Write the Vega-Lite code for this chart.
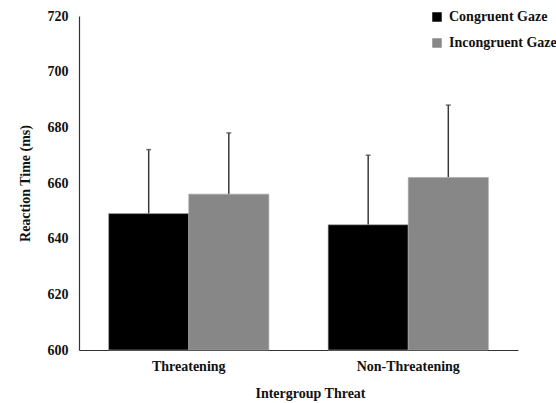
{
  "$schema": "https://vega.github.io/schema/vega-lite/v6.json",
  "width": 439,
  "height": 334,
  "autosize": {"type": "none"},
  "padding": {"left": 79, "top": 16, "right": 38, "bottom": 53},
  "background": "white",
  "config": {
    "view": {"stroke": null},
    "font": "Liberation Serif",
    "axis": {
      "labelFont": "Liberation Serif",
      "titleFont": "Liberation Serif",
      "labelFontWeight": "bold",
      "titleFontWeight": "bold",
      "labelFontSize": 14,
      "titleFontSize": 14,
      "labelColor": "#111",
      "titleColor": "#111",
      "domainColor": "#333",
      "domainWidth": 1.2,
      "grid": false,
      "ticks": false
    }
  },
  "data": {
    "values": [
      {"threat": "Threatening", "gaze": "Congruent Gaze", "mean": 649, "upper": 672},
      {"threat": "Threatening", "gaze": "Incongruent Gaze", "mean": 656, "upper": 678},
      {"threat": "Non-Threatening", "gaze": "Congruent Gaze", "mean": 645, "upper": 670},
      {"threat": "Non-Threatening", "gaze": "Incongruent Gaze", "mean": 662, "upper": 688}
    ]
  },
  "encoding": {
    "x": {
      "field": "threat",
      "type": "nominal",
      "sort": ["Threatening", "Non-Threatening"],
      "scale": {"paddingInner": 0.27, "paddingOuter": 0.135},
      "axis": {"labelAngle": 0, "labelPadding": 9, "title": "Intergroup Threat", "titlePadding": 13, "titleX": 231}
    },
    "xOffset": {"field": "gaze", "type": "nominal", "sort": ["Congruent Gaze", "Incongruent Gaze"]}
  },
  "layer": [
    {
      "mark": {"type": "rule", "color": "#3a3a3a", "strokeWidth": 1.5},
      "encoding": {
        "y": {"field": "mean", "type": "quantitative"},
        "y2": {"field": "upper"}
      }
    },
    {
      "mark": {"type": "tick", "color": "#3a3a3a", "size": 5, "thickness": 1.5},
      "encoding": {
        "y": {"field": "upper", "type": "quantitative"}
      }
    },
    {
      "mark": {"type": "bar", "stroke": "#a8a8a8", "strokeWidth": 0.6},
      "encoding": {
        "y": {
          "field": "mean",
          "type": "quantitative",
          "scale": {"domain": [600, 720], "zero": false, "nice": false},
          "axis": {"values": [600, 620, 640, 660, 680, 700, 720], "labelPadding": 11, "title": "Reaction Time (ms)", "titlePadding": 15}
        },
        "y2": {"datum": 600},
        "color": {
          "field": "gaze",
          "type": "nominal",
          "sort": ["Congruent Gaze", "Incongruent Gaze"],
          "scale": {"range": ["#000000", "#878787"]},
          "legend": {
            "title": null,
            "orient": "none",
            "legendX": 351,
            "legendY": -6,
            "symbolType": "square",
            "symbolSize": 90,
            "symbolStrokeWidth": 0,
            "labelFont": "Liberation Serif",
            "labelFontWeight": "bold",
            "labelFontSize": 14,
            "labelColor": "#111",
            "rowPadding": 12,
            "labelOffset": 5
          }
        }
      }
    }
  ]
}
